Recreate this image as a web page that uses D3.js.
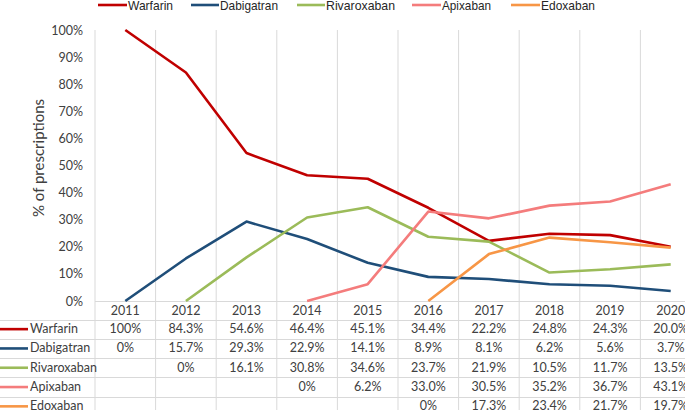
<!DOCTYPE html>
<html><head><meta charset="utf-8">
<script src="https://cdnjs.cloudflare.com/ajax/libs/d3/7.8.5/d3.min.js"></script>
<style>body{margin:0;background:#fff}svg{display:block}</style>
</head><body>
<svg id="c" width="685" height="410"></svg>
<script>
const years = ["2011","2012","2013","2014","2015","2016","2017","2018","2019","2020"];
const seriesNames = ["Warfarin","Dabigatran","Rivaroxaban","Apixaban","Edoxaban"];
const warfarin    = [100, 84.3, 54.6, 46.4, 45.1, 34.4, 22.2, 24.8, 24.3, 20.0];
const dabigatran  = [0, 15.7, 29.3, 22.9, 14.1, 8.9, 8.1, 6.2, 5.6, 3.7];
const rivaroxaban = [null, 0, 16.1, 30.8, 34.6, 23.7, 21.9, 10.5, 11.7, 13.5];
const apixaban    = [null, null, null, 0, 6.2, 33.0, 30.5, 35.2, 36.7, 43.1];
const edoxaban    = [null, null, null, null, null, 0, 17.3, 23.4, 21.7, 19.7];
const yTicks = [0,10,20,30,40,50,60,70,80,90,100];
const colors = ["#C00000","#1F4E79","#9BBB59","#F47C7C","#F79646"];
const allSeries = [warfarin, dabigatran, rivaroxaban, apixaban, edoxaban];

const svg = d3.select("#c");
const pLeft = 95, pTop = 30, pBottom = 301;
const x = d3.scaleBand().domain(years).range([pLeft, pLeft + 606]).padding(0);
const y = d3.scaleLinear().domain([0,100]).range([pBottom, pTop]);
const cx = d => x(d) + x.bandwidth()/2;
const grid = "#d9d9d9";
const font = "Lato, 'Open Sans', sans-serif";

// vertical gridlines in plot
svg.append("g").selectAll("line").data(years.slice(1)).join("line")
  .attr("x1", d => x(d)).attr("x2", d => x(d)).attr("y1", pTop).attr("y2", pBottom)
  .attr("stroke", grid).attr("stroke-width", 1);

// axes lines
svg.append("line").attr("x1", pLeft).attr("x2", pLeft).attr("y1", pTop).attr("y2", 410)
  .attr("stroke", grid);
svg.append("line").attr("x1", pLeft).attr("x2", 701).attr("y1", pBottom+0.5).attr("y2", pBottom+0.5)
  .attr("stroke", grid);

// y axis labels
const yAxis = d3.axisLeft(y).tickValues(yTicks).tickFormat(d => d + "%").tickSize(0).tickPadding(12);
const ga = svg.append("g").attr("transform", `translate(${pLeft},0)`).call(yAxis);
ga.select(".domain").remove();
ga.selectAll("text").attr("font-family", font).attr("font-size", 12.5).attr("fill", "#404040");

svg.append("text").attr("transform", `translate(44,158) rotate(-90)`)
  .attr("text-anchor", "middle").attr("font-family", font).attr("font-size", 15)
  .attr("fill", "#404040").text("% of prescriptions");

// lines
const line = d3.line().defined(d => d.v !== null).x(d => cx(d.year)).y(d => y(d.v));
allSeries.forEach((s, i) => {
  const data = years.map((yr, j) => ({year: yr, v: s[j]}));
  svg.append("path").datum(data).attr("d", line).attr("fill", "none")
    .attr("stroke", colors[i]).attr("stroke-width", 2.6).attr("stroke-linejoin", "round");
});

// data table
const rowTop = 301, headH = 18.5, rowH = 19.3;
svg.append("g").selectAll("line").data(years.slice(1)).join("line")
  .attr("x1", d => x(d)).attr("x2", d => x(d)).attr("y1", rowTop).attr("y2", 410)
  .attr("stroke", grid);
const hl = d3.range(0, 5).map(i => rowTop + headH + i*rowH);
svg.append("g").selectAll("line").data(hl).join("line")
  .attr("x1", 0).attr("x2", 701).attr("y1", d => Math.round(d)+0.5).attr("y2", d => Math.round(d)+0.5)
  .attr("stroke", grid);
svg.append("g").selectAll("text").data(years).join("text")
  .attr("x", d => cx(d)).attr("y", rowTop + 14).attr("text-anchor", "middle")
  .attr("font-family", font).attr("font-size", 12.5).attr("fill", "#404040").text(d => d);
const fmt = v => v === 0 ? "0%" : v === 100 ? "100%" : v.toFixed(1) + "%";
allSeries.forEach((s, i) => {
  const yc = rowTop + headH + i*rowH + rowH/2;
  svg.append("line").attr("x1", 0).attr("x2", 28).attr("y1", yc).attr("y2", yc)
    .attr("stroke", colors[i]).attr("stroke-width", 2.6);
  svg.append("text").attr("x", 30).attr("y", yc + 4).attr("font-family", font)
    .attr("font-size", 12.5).attr("fill", "#404040").text(seriesNames[i]);
  svg.append("g").selectAll("text").data(years.map((yr,j)=>({yr, v:s[j]})).filter(d => d.v !== null)).join("text")
    .attr("x", d => cx(d.yr)).attr("y", yc + 4).attr("text-anchor", "middle")
    .attr("font-family", font).attr("font-size", 12.5).attr("fill", "#404040").text(d => fmt(d.v));
});

// legend
const legX = [98, 191, 297, 412, 511];
const legW = [29, 28, 28, 29, 29];
const legTextW = [45, 58, 69, 49, 54];
seriesNames.forEach((n, i) => {
  svg.append("line").attr("x1", legX[i]).attr("x2", legX[i] + legW[i]).attr("y1", 5).attr("y2", 5)
    .attr("stroke", colors[i]).attr("stroke-width", 2.6);
  svg.append("text").attr("x", legX[i] + legW[i] + 1).attr("y", 10)
    .attr("font-family", "'Liberation Sans', Arial, sans-serif").attr("font-size", 13.5)
    .attr("textLength", legTextW[i]).attr("lengthAdjust", "spacingAndGlyphs")
    .attr("fill", "#262626").text(n);
});
</script>
</body></html>
